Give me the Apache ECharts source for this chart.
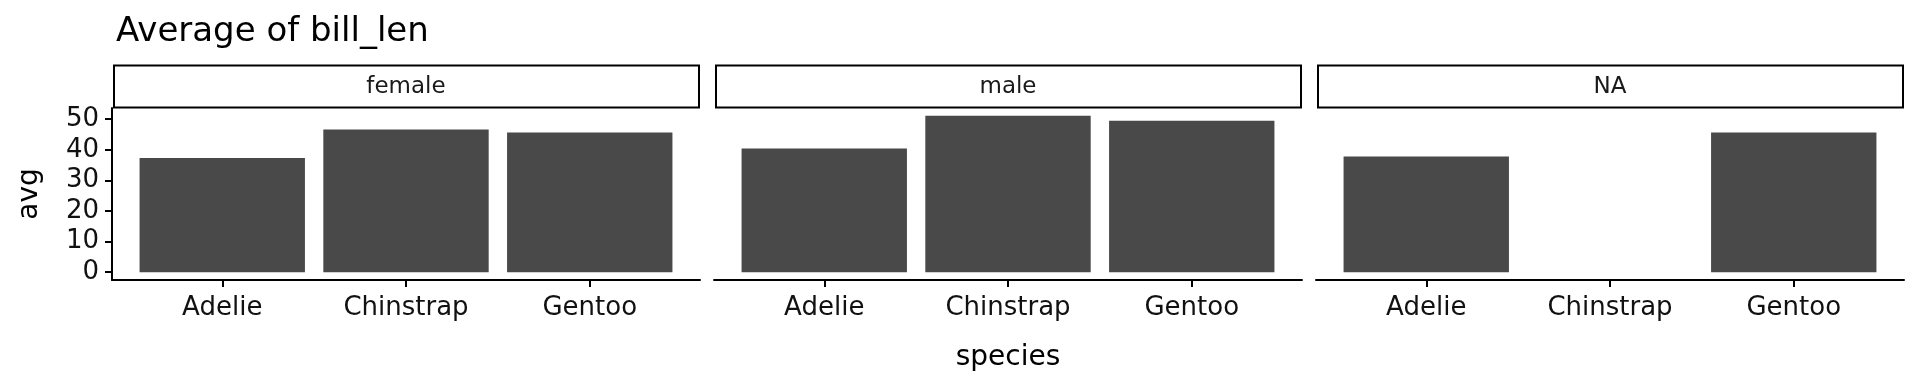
<!DOCTYPE html>
<html>
<head>
<meta charset="utf-8">
<script src="https://cdn.jsdelivr.net/npm/echarts@6/dist/echarts.min.js"></script>
<style>
  html, body { margin: 0; padding: 0; background: #fff; }
  #chart { width: 1920px; height: 384px; }
</style>
</head>
<body>
<div id="chart"></div>
<script>
// ---- data ----
const species = ['Adelie', 'Chinstrap', 'Gentoo'];
const facets = ['female', 'male', 'NA'];
const avgFemale = [37.3, 46.6, 45.6];
const avgMale = [40.4, 51.1, 49.5];
const avgNA = [37.8, null, 45.6];
const yTicks = [0, 10, 20, 30, 40, 50];
const titleText = 'Average of bill_len';
const xName = 'species';
const yName = 'avg';

// ---- layout ----
const FONT = 'DejaVu Sans';
const panelLefts = [112, 714, 1316];
const panelW = 588, panelTop = 108, panelH = 172;
const stripTop = 65;
const xMin = 0.4, xMax = 3.6;
const yMin = -2.55, yMax = 53.64;
const barW = 0.9 * panelW / (xMax - xMin);
const facetValues = [avgFemale, avgMale, avgNA];

const chart = echarts.init(document.getElementById('chart'), null, { renderer: 'canvas' });

const grids = [], xAxes = [], yAxes = [], series = [], graphics = [];
facets.forEach((f, i) => {
  grids.push({ left: panelLefts[i], top: panelTop, width: panelW, height: panelH,
    containLabel: false, outerBoundsMode: 'none' });
  xAxes.push({
    type: 'value', gridIndex: i, min: xMin, max: xMax,
    name: i === 1 ? xName : '', nameLocation: 'middle', nameGap: 64,
    nameTextStyle: { fontFamily: FONT, fontSize: 28, color: '#000' },
    axisLine: { show: true, onZero: false, lineStyle: { color: '#000', width: 2 } },
    axisTick: { show: true, length: 7, customValues: [1, 2, 3], lineStyle: { color: '#000', width: 2 } },
    axisLabel: { show: true, customValues: [1, 2, 3], margin: 15,
      formatter: v => species[Math.round(v) - 1] || '',
      fontFamily: FONT, fontSize: 26, color: '#111' },
    splitLine: { show: false }
  });
  yAxes.push({
    type: 'value', gridIndex: i, min: yMin, max: yMax,
    show: i === 0,
    name: i === 0 ? yName : '', nameLocation: 'middle', nameGap: 68,
    nameTextStyle: { fontFamily: FONT, fontSize: 28, color: '#000' },
    axisLine: { show: i === 0, onZero: false, lineStyle: { color: '#000', width: 2 } },
    axisTick: { show: i === 0, length: 7, customValues: yTicks, lineStyle: { color: '#000', width: 2 } },
    axisLabel: { show: i === 0, customValues: yTicks, margin: 13,
      fontFamily: FONT, fontSize: 26, color: '#111' },
    splitLine: { show: false }
  });
  series.push({
    type: 'bar', xAxisIndex: i, yAxisIndex: i,
    barWidth: barW,
    itemStyle: { color: '#494949' },
    data: species.map((s, j) => [j + 1, facetValues[i][j]]),
    silent: true
  });
  graphics.push({
    type: 'rect',
    shape: { x: panelLefts[i] + 2, y: stripTop + 0.5, width: panelW - 3, height: panelTop - stripTop - 1 },
    style: { fill: '#fff', stroke: '#000', lineWidth: 2 }
  });
  graphics.push({
    type: 'text',
    x: panelLefts[i] + panelW / 2, y: (stripTop + panelTop) / 2 + 1,
    style: { text: f, fontFamily: FONT, fontSize: 23, fill: '#1a1a1a',
      textAlign: 'center', textVerticalAlign: 'middle' }
  });
});

chart.setOption({
  animation: false,
  backgroundColor: '#fff',
  title: { text: titleText, left: 111, top: 10,
    textStyle: { fontFamily: FONT, fontSize: 34, fontWeight: 'normal', color: '#000' } },
  grid: grids,
  xAxis: xAxes,
  yAxis: yAxes,
  series: series,
  graphic: graphics
});
</script>
</body>
</html>
